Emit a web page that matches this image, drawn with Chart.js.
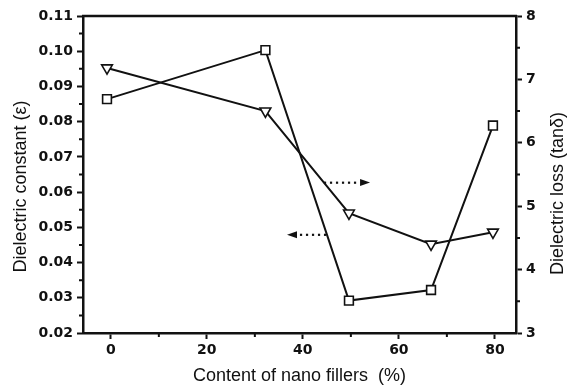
<!DOCTYPE html>
<html>
<head>
<meta charset="utf-8">
<script src="https://cdn.jsdelivr.net/npm/chart.js@4.4.1/dist/chart.umd.min.js"></script>
<style>
  html, body { margin: 0; padding: 0; background: #fff; }
  #wrap { width: 569px; height: 392px; }
</style>
</head>
<body>
<div id="wrap"><canvas id="dielectricChart" width="569" height="392"></canvas></div>
<script>
// filler content (%) and measured values
const fillerContent = [-0.8, 32.2, 49.6, 66.7, 79.6];
const dielectricConstant = [0.0864, 0.1003, 0.0292, 0.0322, 0.0789];
const dielectricLoss = [7.18, 6.50, 4.89, 4.40, 4.59];

const xMinorTicks = [10, 30, 50, 70];
const leftMinorTicks = [0.025, 0.035, 0.045, 0.055, 0.065, 0.075, 0.085, 0.095, 0.105];
const rightMinorTicks = [3.5, 4.5, 5.5, 6.5, 7.5];

const xTitle = 'Content of nano fillers  (%)';
const leftTitle = 'Dielectric constant (ε)';
const rightTitle = 'Dielectric loss (tanδ)';

// dotted arrows pointing each curve to its axis: [fromX, toX, y on left scale]
const arrowToRight = [44.6, 54.0, 0.0627];
const arrowToLeft = [44.6, 36.7, 0.0479];

const INK = '#111';
const TITLE_FONT = '18px "Liberation Sans", Arial, sans-serif';

// vertical titles (both read bottom to top), minor ticks, top frame line, arrows
const framePlugin = {
  id: 'frame',
  afterDraw(chart) {
    const { ctx, chartArea: a, scales } = chart;
    ctx.save();
    ctx.strokeStyle = INK;
    ctx.lineWidth = 2.5;
    ctx.beginPath();
    ctx.moveTo(a.left - 1, a.top);
    ctx.lineTo(a.right + 1, a.top);
    ctx.stroke();

    ctx.lineWidth = 2;
    ctx.beginPath();
    xMinorTicks.forEach(v => {
      const px = scales.x.getPixelForValue(v);
      ctx.moveTo(px, a.bottom);
      ctx.lineTo(px, a.bottom + 4);
    });
    leftMinorTicks.forEach(v => {
      const py = scales.y.getPixelForValue(v);
      ctx.moveTo(a.left, py);
      ctx.lineTo(a.left - 4, py);
    });
    rightMinorTicks.forEach(v => {
      const py = scales.y1.getPixelForValue(v);
      ctx.moveTo(a.right, py);
      ctx.lineTo(a.right + 4, py);
    });
    ctx.stroke();

    const drawArrow = ([x0, x1, yv]) => {
      const sx = scales.x.getPixelForValue(x0);
      const ex = scales.x.getPixelForValue(x1);
      const py = scales.y.getPixelForValue(yv);
      const dir = Math.sign(ex - sx);
      ctx.fillStyle = INK;
      for (let x = sx; Math.abs(x - sx) < Math.abs(ex - sx) - 12; x += dir * 6) {
        ctx.fillRect(x - 1, py - 1, 2.2, 2.2);
      }
      ctx.beginPath();
      ctx.moveTo(ex, py);
      ctx.lineTo(ex - dir * 10, py - 3.5);
      ctx.lineTo(ex - dir * 10, py + 3.5);
      ctx.closePath();
      ctx.fill();
    };
    drawArrow(arrowToRight);
    drawArrow(arrowToLeft);

    const drawVertical = (text, x, y) => {
      ctx.save();
      ctx.translate(x, y);
      ctx.rotate(-Math.PI / 2);
      ctx.font = TITLE_FONT;
      ctx.fillStyle = INK;
      ctx.textAlign = 'center';
      ctx.textBaseline = 'middle';
      ctx.fillText(text, 0, 0);
      ctx.restore();
    };
    const midY = (a.top + a.bottom) / 2;
    drawVertical(leftTitle, 21, midY + 12);
    drawVertical(rightTitle, chart.width - 11, midY + 19);
    ctx.restore();
  }
};

const tickFont = { family: 'DejaVu Sans, sans-serif', size: 14, weight: 'bold' };
const axisGrid = { drawOnChartArea: false, drawTicks: true, tickLength: 6, tickWidth: 2, color: INK };
const axisBorder = { color: INK, width: 2.5 };

new Chart(document.getElementById('dielectricChart'), {
  type: 'line',
  data: {
    datasets: [
      {
        label: 'Dielectric constant',
        data: fillerContent.map((x, i) => ({ x, y: dielectricConstant[i] })),
        yAxisID: 'y',
        borderColor: INK,
        borderWidth: 2,
        pointStyle: 'rect',
        pointRadius: 6.2,
        pointBorderWidth: 1.6,
        pointBackgroundColor: '#fff',
        pointBorderColor: INK,
        tension: 0
      },
      {
        label: 'Dielectric loss',
        data: fillerContent.map((x, i) => ({ x, y: dielectricLoss[i] })),
        yAxisID: 'y1',
        borderColor: INK,
        borderWidth: 2,
        pointStyle: 'triangle',
        rotation: 180,
        pointRadius: 6.2,
        pointBorderWidth: 1.6,
        pointBackgroundColor: '#fff',
        pointBorderColor: INK,
        tension: 0
      }
    ]
  },
  options: {
    responsive: false,
    animation: false,
    layout: { padding: { top: 16, left: 0, right: 0, bottom: 0 } },
    plugins: {
      legend: { display: false },
      tooltip: { enabled: false }
    },
    scales: {
      x: {
        type: 'linear',
        min: -5.8,
        max: 84.4,
        afterFit(scale) { scale.height = 59; },
        ticks: { stepSize: 20, includeBounds: false, color: INK, font: tickFont, padding: 3 },
        grid: axisGrid,
        border: axisBorder,
        title: {
          display: true, text: xTitle, color: INK,
          font: { family: '"Liberation Sans", Arial, sans-serif', size: 18, lineHeight: '24px' }
        }
      },
      y: {
        position: 'left',
        min: 0.02,
        max: 0.11,
        afterFit(scale) { scale.width = 83; },
        ticks: { stepSize: 0.01, color: INK, font: tickFont, padding: 4, callback: v => v.toFixed(2) },
        grid: axisGrid,
        border: axisBorder
      },
      y1: {
        position: 'right',
        min: 3,
        max: 8,
        afterFit(scale) { scale.width = 53; },
        ticks: { stepSize: 1, color: INK, font: tickFont, padding: 4 },
        grid: axisGrid,
        border: axisBorder
      }
    }
  },
  plugins: [framePlugin]
});
</script>
</body>
</html>
